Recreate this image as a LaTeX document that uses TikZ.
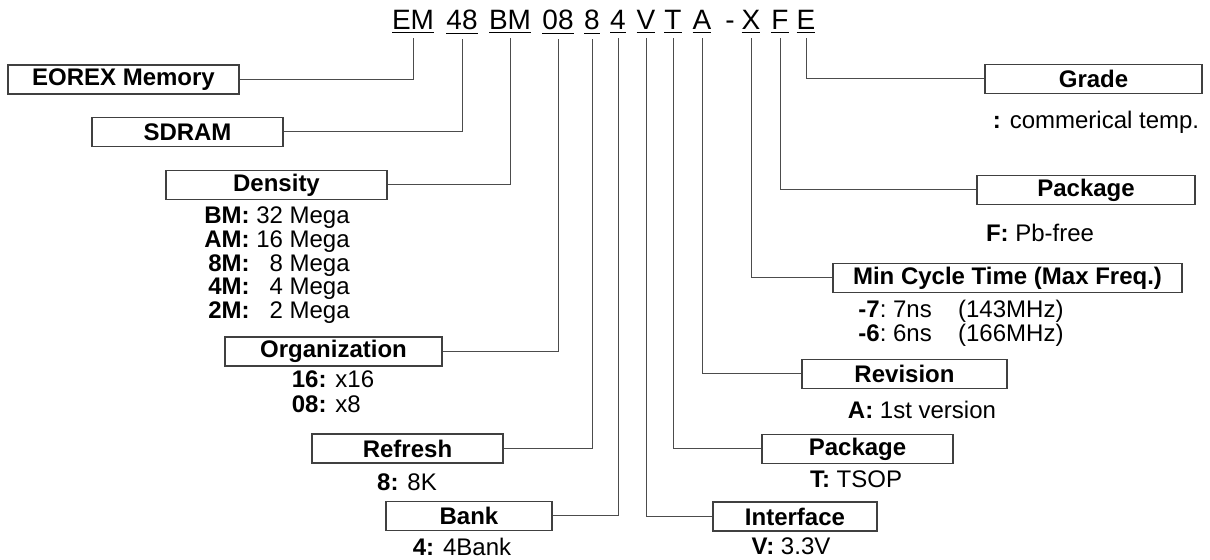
\documentclass[tikz,border=0pt]{standalone}
\usepackage{fontspec}
\setmainfont{Liberation Sans}
\begin{document}
\begin{tikzpicture}[x=0.5pt, y=-0.5pt,
    box/.style={draw=black!75, line width=0.6pt, minimum height=14.5pt, inner sep=0pt, font=\fontsize{12}{14}\selectfont\bfseries},
    note/.style={inner sep=0pt, font=\fontsize{12}{11.5}\selectfont},
    code/.style={inner xsep=0pt, inner ysep=2pt, anchor=base, font=\fontsize{14}{16}\selectfont},
    wire/.style={draw=black!70, line width=0.5pt}]
    \useasboundingbox (0,0) rectangle (1210,560);
    % part number
    \node[code] (em) at (413,30) {\underline{EM}};
    \node[code] (d48) at (462,30) {\underline{48}};
    \node[code] (dbm) at (510,30) {\underline{BM}};
    \node[code] (d08) at (558,30) {\underline{08}};
    \node[code] (d8) at (592,30) {\underline{8}};
    \node[code] (d4) at (618,30) {\underline{4}};
    \node[code] (dv) at (646,30) {\underline{V}};
    \node[code] (dt) at (673,30) {\underline{T}};
    \node[code] (da) at (702,30) {\underline{A}};
    \node[code] (dash) at (730,30) {-};
    \node[code] (dx) at (751,30) {\underline{X}};
    \node[code] (df) at (780,30) {\underline{F}};
    \node[code] (de) at (806,30) {\underline{E}};
    % left side
    \node[box, minimum width=115.5pt] (maker) at (123.5,79.5) {EOREX Memory};
    \node[box, minimum width=95.5pt] (type) at (187.5,132) {SDRAM};
    \node[box, minimum width=110.5pt] (density) at (276.5,185) {Density};
    \node[note] (densnote) at (277,266) {\begin{tabular}{@{}r@{\ }r@{}}
        \textbf{BM:} & 32 Mega\\
        \textbf{AM:} & 16 Mega\\
        \textbf{8M:} & 8 Mega\\
        \textbf{4M:} & 4 Mega\\
        \textbf{2M:} & 2 Mega
    \end{tabular}};
    \node[box, minimum width=108.5pt] (org) at (333.5,351.5) {Organization};
    \node[note, font=\fontsize{12}{12.5}\selectfont] (orgnote) at (333,395.5) {\begin{tabular}{@{}l@{}}
        \textbf{16:} x16\\
        \textbf{08:} x8
    \end{tabular}};
    \node[box, minimum width=95.5pt] (refresh) at (407.5,448.5) {Refresh};
    \node[note] (refnote) at (407,482) {\textbf{8:} 8K};
    \node[box, minimum width=83pt] (bank) at (469,516) {Bank};
    \node[note] (banknote) at (462,547) {\textbf{4:} 4Bank};
    % right side
    \node[box, minimum width=108.5pt] (grade) at (1093.5,79) {Grade};
    \node[note] (gradenote) at (1096,122) {\textbf{:} commerical temp.};
    \node[box, minimum width=109pt] (pkgf) at (1086,190) {Package};
    \node[note] (pkgfnote) at (1040,233) {\textbf{F:} Pb-free};
    \node[box, minimum width=174.5pt] (cycle) at (1007.5,278) {Min Cycle Time (Max Freq.)};
    \node[note, anchor=west] (cyclenote) at (858,324) {\begin{tabular}{@{}l@{\ }l@{\hspace{1.1em}}l@{}}
        \textbf{-7}: & 7ns & (143MHz)\\
        \textbf{-6}: & 6ns & (166MHz)
    \end{tabular}};
    \node[box, minimum width=102.5pt] (rev) at (904.5,374) {Revision};
    \node[note] (revnote) at (922,410) {\textbf{A:} 1st version};
    \node[box, minimum width=95.5pt] (pkgt) at (857.5,449) {Package};
    \node[note] (pkgtnote) at (856,479) {\textbf{T:} TSOP};
    \node[box, minimum width=82pt] (iface) at (795,516.5) {Interface};
    \node[note] (ifacenote) at (791,546) {\textbf{V:} 3.3V};
    % connectors
    \draw[wire] (maker.east) -| (em.south);
    \draw[wire] (type.east) -| (d48.south);
    \draw[wire] (density.east) -| (dbm.south);
    \draw[wire] (org.east) -| (d08.south);
    \draw[wire] (refresh.east) -| (d8.south);
    \draw[wire] (bank.east) -| (d4.south);
    \draw[wire] (iface.west) -| (dv.south);
    \draw[wire] (pkgt.west) -| (dt.south);
    \draw[wire] (rev.west) -| (da.south);
    \draw[wire] (cycle.west) -| (dx.south);
    \draw[wire] (pkgf.west) -| (df.south);
    \draw[wire] (grade.west) -| (de.south);
\end{tikzpicture}
\end{document}
